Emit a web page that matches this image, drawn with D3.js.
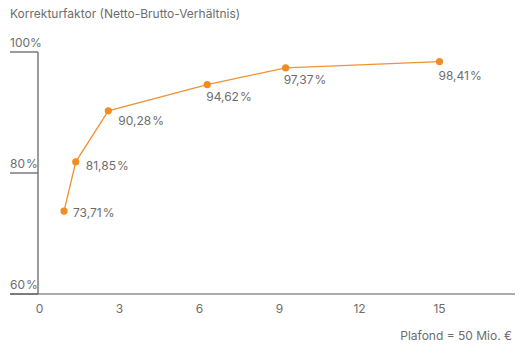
<!doctype html>
<html>
<head>
<meta charset="utf-8">
<script src="https://cdnjs.cloudflare.com/ajax/libs/d3/7.8.5/d3.min.js"></script>
<style>
  body { margin: 0; background: #fff; }
  text { font-family: Inter, Roboto, "Liberation Sans", sans-serif; font-size: 12px; fill: #6d6d6d; }
  .axis-line { stroke: #5a5a5a; stroke-width: 1.2; }
</style>
</head>
<body>
<svg id="chart" width="529" height="354"></svg>
<script>
// data
var plafond = [0.92, 1.36, 2.58, 6.29, 9.23, 15.0];
var faktor = [73.71, 81.85, 90.28, 94.62, 97.37, 98.41];
var xTicks = [0, 3, 6, 9, 12, 15];
var yTicks = [60, 80, 100];

// label offsets relative to each dot
var labelDx = [9, 10, 10, -1, -2, -1];
var labelDy = [2, 4, 10, 12, 12, 14];

var svg = d3.select('#chart');

var x = d3.scaleLinear().domain([0, 15]).range([39.5, 439.5]);
var y = d3.scaleLinear().domain([60, 100]).range([294, 52]);

var fmt = function (v) { return d3.format('.2f')(v).replace('.', ',') + '\u200A%'; };

svg.append('text')
  .attr('x', 10).attr('y', 18)
  .text('Korrekturfaktor (Netto-Brutto-Verhältnis)');

// y ticks: short line + label above
yTicks.forEach(function (t) {
  svg.append('line').attr('class', 'axis-line')
    .attr('x1', 10).attr('x2', 38)
    .attr('y1', y(t)).attr('y2', y(t));
  svg.append('text')
    .attr('x', 10).attr('y', y(t) - 5)
    .text(t + (t === 100 ? '%' : '\u200A%'));
});

// axes lines
svg.append('line').attr('class', 'axis-line')
  .attr('x1', 38).attr('x2', 38)
  .attr('y1', y(100)).attr('y2', y(60));
svg.append('line').attr('class', 'axis-line')
  .attr('x1', 10).attr('x2', 515)
  .attr('y1', y(60)).attr('y2', y(60));

svg.selectAll('.xtick')
  .data(xTicks).enter()
  .append('text').attr('class', 'xtick')
  .attr('x', function (d) { return x(d); })
  .attr('y', 313)
  .attr('text-anchor', 'middle')
  .text(function (d) { return d; });

svg.append('text')
  .attr('x', 512).attr('y', 340)
  .attr('text-anchor', 'end')
  .text('Plafond = 50 Mio. €');

var pts = plafond.map(function (p, i) { return { x: p, y: faktor[i], i: i }; });

svg.append('path')
  .datum(pts)
  .attr('fill', 'none')
  .attr('stroke', '#ef9233')
  .attr('stroke-width', 1.3)
  .attr('d', d3.line().x(function (d) { return x(d.x); }).y(function (d) { return y(d.y); }));

svg.selectAll('.dot')
  .data(pts).enter()
  .append('circle').attr('class', 'dot')
  .attr('cx', function (d) { return x(d.x); })
  .attr('cy', function (d) { return y(d.y); })
  .attr('r', 3.6)
  .attr('fill', '#ef8c22');

svg.selectAll('.value')
  .data(pts).enter()
  .append('text').attr('class', 'value')
  .attr('x', function (d) { return x(d.x) + labelDx[d.i]; })
  .attr('y', function (d) { return y(d.y) + labelDy[d.i]; })
  .attr('dy', '0.35em')
  .text(function (d) { return fmt(d.y); });
</script>
</body>
</html>
